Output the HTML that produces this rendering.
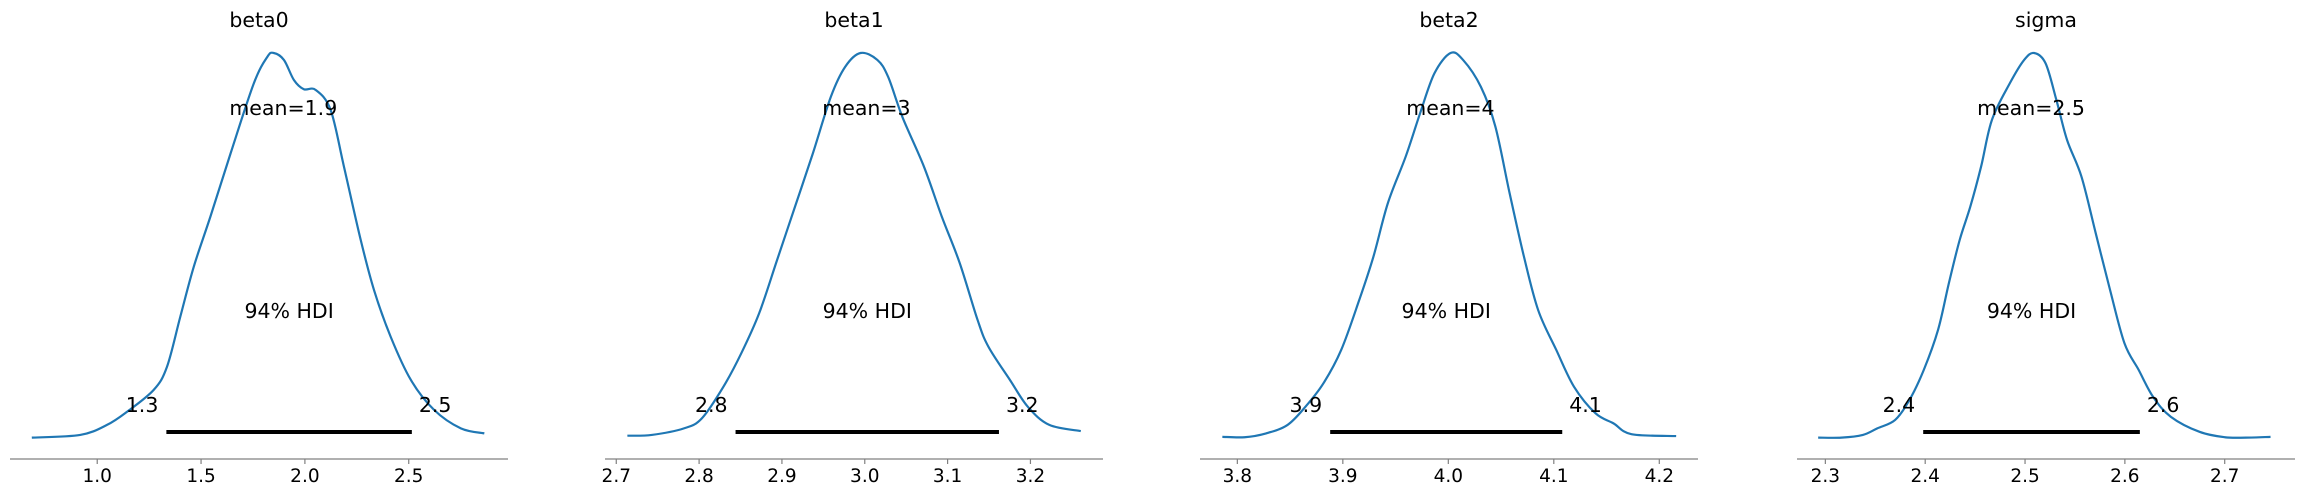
<!DOCTYPE html>
<html><head><meta charset="utf-8"><style>
body{margin:0;background:#fff}
svg{display:block}
text{font-family:"DejaVu Sans","Liberation Sans",sans-serif;fill:#000}
</style></head><body>
<svg id="chart" width="2301" height="497" viewBox="0 0 2301 497" xmlns="http://www.w3.org/2000/svg"></svg>
<script>
const names = ["beta0","beta1","beta2","sigma"];
const means = [1.896, 3.002, 4.002, 2.506];
const meanLabels = ["mean=1.9","mean=3","mean=4","mean=2.5"];
const hdiLow = [1.333, 2.844, 3.888, 2.398];
const hdiHigh = [2.515, 3.162, 4.108, 2.615];
const hdiLowLabels = ["1.3","2.8","3.9","2.4"];
const hdiHighLabels = ["2.5","3.2","4.1","2.6"];
const domainMin = [0.580, 2.6864, 3.7646, 2.2716];
const domainMax = [2.978, 3.2876, 4.2367, 2.7704];
const ticks0 = [1.0,1.5,2.0,2.5];
const ticks1 = [2.7,2.8,2.9,3.0,3.1,3.2];
const ticks2 = [3.8,3.9,4.0,4.1,4.2];
const ticks3 = [2.3,2.4,2.5,2.6,2.7];
const tickSets = [ticks0,ticks1,ticks2,ticks3];
const kdeX0 = [0.685,0.918,1.047,1.143,1.272,1.336,1.400,1.465,1.545,1.642,1.754,1.819,1.850,1.899,1.947,1.995,2.052,2.124,2.188,2.269,2.333,2.413,2.510,2.622,2.751,2.864];
const kdeY0 = [0.001,0.008,0.034,0.068,0.125,0.185,0.315,0.445,0.575,0.739,0.921,0.990,1.000,0.982,0.930,0.906,0.904,0.852,0.705,0.514,0.384,0.263,0.151,0.073,0.025,0.012];
const kdeX1 = [2.7134,2.7428,2.7817,2.8033,2.8293,2.8509,2.8725,2.8941,2.9158,2.9373,2.9590,2.9763,2.9948,3.0152,3.0282,3.0454,3.0714,3.0930,3.1147,3.1363,3.1493,3.1752,3.1969,3.2228,3.2608];
const kdeY1 = [0.006,0.008,0.025,0.051,0.133,0.220,0.324,0.462,0.601,0.739,0.886,0.964,1.000,0.982,0.938,0.834,0.705,0.575,0.454,0.306,0.237,0.151,0.081,0.034,0.018];
const kdeX2 = [3.7858,3.8068,3.8272,3.8476,3.8645,3.8816,3.8985,3.9155,3.9290,3.9427,3.9596,3.9732,3.9868,4.0021,4.0140,4.0309,4.0446,4.0581,4.0717,4.0852,4.1023,4.1192,4.1396,4.1566,4.1736,4.2160];
const kdeY2 = [0.003,0.002,0.012,0.034,0.081,0.142,0.229,0.358,0.471,0.610,0.731,0.843,0.947,1.000,0.982,0.912,0.809,0.636,0.471,0.332,0.229,0.133,0.064,0.038,0.010,0.005];
const kdeX3 = [2.2928,2.3161,2.3376,2.3520,2.3699,2.3843,2.3986,2.4129,2.4237,2.4345,2.4452,2.4560,2.4668,2.4847,2.4991,2.5091,2.5206,2.5314,2.5421,2.5565,2.5708,2.5852,2.5996,2.6138,2.6282,2.6461,2.6748,2.7000,2.7215,2.7459];
const kdeY3 = [0.001,0.001,0.008,0.025,0.047,0.099,0.177,0.281,0.402,0.514,0.601,0.705,0.826,0.921,0.982,1.000,0.973,0.878,0.774,0.679,0.532,0.384,0.246,0.177,0.107,0.055,0.016,0.002,0.001,0.003];
const kdeXs = [kdeX0,kdeX1,kdeX2,kdeX3];
const kdeYs = [kdeY0,kdeY1,kdeY2,kdeY3];

const NS = "http://www.w3.org/2000/svg";
const svg = document.getElementById("chart");
const lefts = [10,605,1200,1797], W = 498;
const spineY = 459, y0 = 438, yTop = 53;
function mk(tag, attrs, parent){ const e=document.createElementNS(NS,tag); for(const k in attrs) e.setAttribute(k,attrs[k]); parent.appendChild(e); return e; }
function smoothPath(pts){
  let d = "M"+pts[0][0].toFixed(2)+","+pts[0][1].toFixed(2);
  for(let i=0;i<pts.length-1;i++){
    const p0=pts[Math.max(0,i-1)],p1=pts[i],p2=pts[i+1],p3=pts[Math.min(pts.length-1,i+2)];
    const c1x=p1[0]+(p2[0]-p0[0])/6,c1y=p1[1]+(p2[1]-p0[1])/6;
    const c2x=p2[0]-(p3[0]-p1[0])/6,c2y=p2[1]-(p3[1]-p1[1])/6;
    d+=" C"+c1x.toFixed(2)+","+c1y.toFixed(2)+" "+c2x.toFixed(2)+","+c2y.toFixed(2)+" "+p2[0].toFixed(2)+","+p2[1].toFixed(2);
  }
  return d;
}
for(let p=0;p<4;p++){
  const L=lefts[p];
  const xs=v=>L+(v-domainMin[p])/(domainMax[p]-domainMin[p])*W;
  const ys=d=>y0-d*(y0-yTop);
  const g=mk("g",{},svg);
  
  
  const t=mk("text",{x:L+W/2,y:27,"text-anchor":"middle","font-size":"20.5"},g); t.textContent=names[p];
  
  
  const ax=mk("line",{x1:L,x2:L+W,y1:spineY,y2:spineY,stroke:"#808080","stroke-width":1.3},g);
  
  
  tickSets[p].forEach(tv=>{
    const x=xs(tv);
    const tk=mk("line",{x1:x,x2:x,y1:spineY,y2:spineY+5,stroke:"#808080","stroke-width":1.2},g);
    
    
    const tl=mk("text",{x:x,y:482,"text-anchor":"middle","font-size":"18.5"},g); tl.textContent=tv.toFixed(1);
    
    
  });
  const pts=kdeXs[p].map((v,i)=>[xs(v),ys(kdeYs[p][i])]);
  const path=mk("path",{d:smoothPath(pts),fill:"none",stroke:"#1f77b4","stroke-width":2.2},g);
  
  
  const bar=mk("line",{x1:xs(hdiLow[p]),x2:xs(hdiHigh[p]),y1:432,y2:432,stroke:"#000","stroke-width":4},g);
  
  
  const lo=mk("text",{x:xs(hdiLow[p])-8,y:412,"text-anchor":"end","font-size":"20.5"},g); lo.textContent=hdiLowLabels[p];
  
  
  const hi=mk("text",{x:xs(hdiHigh[p])+7,y:412,"text-anchor":"start","font-size":"20.5"},g); hi.textContent=hdiHighLabels[p];
  
  
  const mt=mk("text",{x:xs(means[p]),y:115,"text-anchor":"middle","font-size":"20.5"},g); mt.textContent=meanLabels[p];
  
  
  const ht=mk("text",{x:xs((hdiLow[p]+hdiHigh[p])/2),y:318,"text-anchor":"middle","font-size":"20.5"},g); ht.textContent="94% HDI";
  
  
}
</script>
</body></html>
